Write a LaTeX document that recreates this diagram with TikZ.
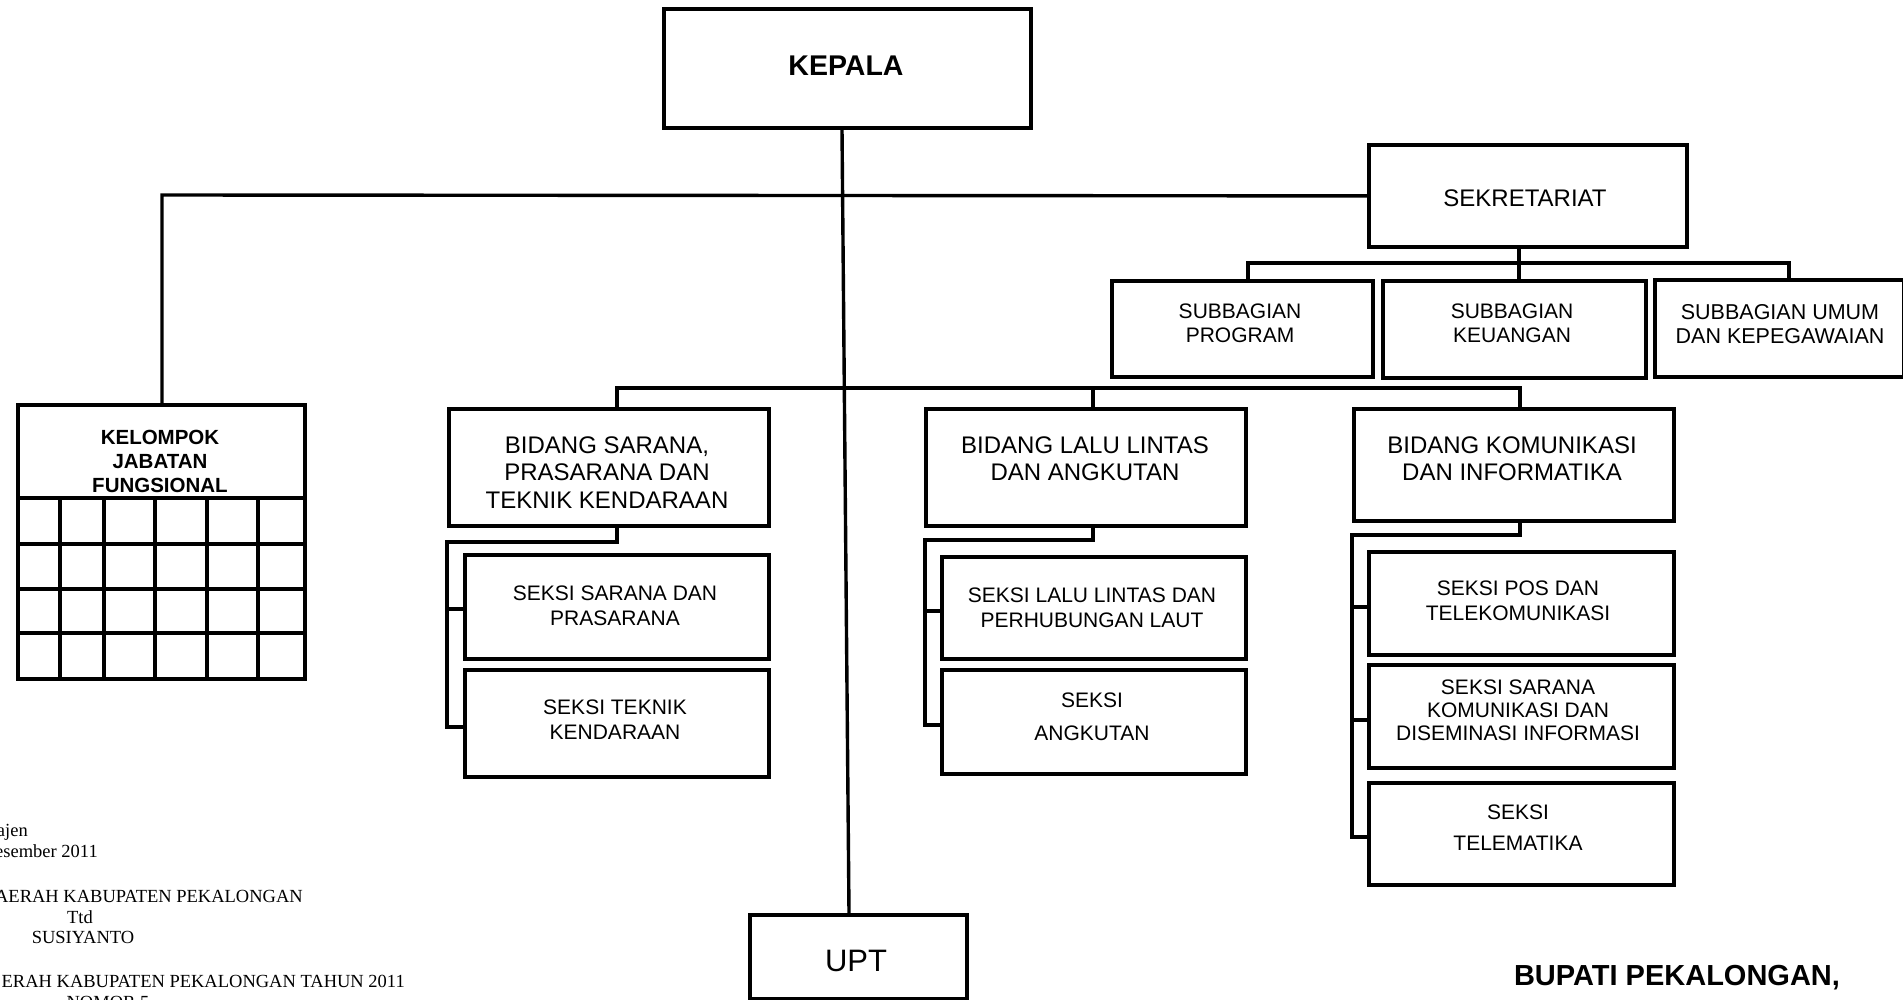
\documentclass[tikz,border=0pt]{standalone}
\usepackage{fontspec}
\setmainfont{Liberation Sans}
\newfontfamily\tnr{Liberation Serif}
\newcommand\fsz[2]{\fontsize{#1}{#2}\selectfont}
\newcommand\bx[5]{\node[box,anchor=north west,minimum width={#4-#2},minimum height={#5-#3}] (#1) at (#2,#3) {};}
\begin{document}
\begin{tikzpicture}[x=1pt,y=-1pt,
  box/.style={draw,line width=3.8pt,fill=white,inner sep=0pt,rectangle},
  ln/.style={line width=3.4pt,line join=miter},
  grid/.style={line width=3.6pt},
  t/.style={inner sep=0pt,align=center},
  sek/.style={t,font={\fsz{21}{25}}},
  bid/.style={t,font={\fsz{24}{27.5}}},
  sub/.style={t,font={\fsz{21}{24}}},
  ser/.style={inner sep=0pt,font={\tnr\fsz{18.5}{22}}}]
\useasboundingbox (0,0) rectangle (1903,999);

% junction coordinates
\coordinate (kx) at (842,0);
\coordinate (ux) at (849,0);
\coordinate (h0) at (162,195);
\coordinate (s0) at (1519,263);
\coordinate (s1) at (1248,263);
\coordinate (s2) at (1789,263);
\coordinate (m1) at (617,388);
\coordinate (m2) at (1093,388);
\coordinate (m3) at (1520,388);
\coordinate (a1) at (617,542);
\coordinate (a2) at (447,542);
\coordinate (a3) at (447,609);
\coordinate (a4) at (447,727);
\coordinate (b1) at (1093,540);
\coordinate (b2) at (925,540);
\coordinate (b3) at (925,611);
\coordinate (b4) at (925,725);
\coordinate (c1) at (1520,535);
\coordinate (c2) at (1352,535);
\coordinate (c3) at (1352,607);
\coordinate (c4) at (1352,720);
\coordinate (c5) at (1352,837);

% boxes
\bx{kepala}{662}{7}{1029}{126}
\bx{sek}{1367}{143}{1685}{245}
\bx{sprog}{1110}{279}{1371}{375}
\bx{skeu}{1381}{279}{1644}{376}
\bx{sumum}{1653}{278}{1902}{375}
\bx{kel}{16}{403}{303}{677}
\bx{bsar}{447}{407}{767}{524}
\bx{blalu}{924}{407}{1244}{524}
\bx{bkom}{1352}{407}{1672}{519}
\bx{ss1}{463}{553}{767}{657}
\bx{ss2}{463}{668}{767}{775}
\bx{sl1}{940}{555}{1244}{657}
\bx{sl2}{940}{668}{1244}{772}
\bx{sk1}{1367}{550}{1672}{653}
\bx{sk2}{1367}{663}{1672}{766}
\bx{sk3}{1367}{781}{1672}{883}
\bx{upt}{748}{913}{965}{997}

% connectors
\draw[ln] (kepala.south -| kx) -- (upt.north -| ux);
\draw[ln] (sek.west) -- (h0) -- (h0 |- kel.north);
\draw[ln] (sek.south -| s0) -- (skeu.north -| s0);
\draw[ln] (sprog.north -| s1) -- (s1) -- (s2) -- (sumum.north -| s2);
\draw[ln] (bsar.north -| m1) -- (m1) -- (m3) -- (bkom.north -| m3);
\draw[ln] (m2) -- (blalu.north -| m2);
\draw[ln] (bsar.south -| a1) -- (a1) -- (a2) -- (a4) -- (ss2.west |- a4);
\draw[ln] (a3) -- (ss1.west |- a3);
\draw[ln] (blalu.south -| b1) -- (b1) -- (b2) -- (b4) -- (sl2.west |- b4);
\draw[ln] (b3) -- (sl1.west |- b3);
\draw[ln] (bkom.south -| c1) -- (c1) -- (c2) -- (c5) -- (sk3.west |- c5);
\draw[ln] (c3) -- (sk1.west |- c3);
\draw[ln] (c4) -- (sk2.west |- c4);

% grid of the functional group
\draw[grid] (16,498) -- (303,498);
\foreach \yy in {544,589,633} \draw[grid] (16,\yy) -- (303,\yy);
\foreach \xx in {60,104,155,207,258} \draw[grid] (\xx,498) -- (\xx,677);

% texts
\node[t,anchor=base,font={\fsz{28.5}{34}\bfseries}] (kepala-t) at (846,75.7) {KEPALA};
\node[t,anchor=base,font={\fsz{24}{28}}] (sek-t) at (1525,206.6) {SEKRETARIAT};
\node[sub] (sprog-t) at (1240,323) {SUBBAGIAN\\PROGRAM};
\node[sub] (skeu-t) at (1512,323) {SUBBAGIAN\\KEUANGAN};
\node[t,font={\fsz{21.5}{24}}] (sumum-t) at (1780,324) {SUBBAGIAN UMUM\\DAN KEPEGAWAIAN};
\node[t,font={\fsz{20.5}{24}\bfseries}] (kel-t) at (160,461) {KELOMPOK\\JABATAN\\FUNGSIONAL};
\node[bid] (bsar-t) at (607,472.5) {BIDANG SARANA,\\PRASARANA DAN\\TEKNIK KENDARAAN};
\node[bid] (blalu-t) at (1085,458.5) {BIDANG LALU LINTAS\\DAN ANGKUTAN};
\node[bid] (bkom-t) at (1512,458.5) {BIDANG KOMUNIKASI\\DAN INFORMATIKA};
\node[sek] (ss1-t) at (615,605.5) {SEKSI SARANA DAN\\PRASARANA};
\node[sek] (ss2-t) at (615,720) {SEKSI TEKNIK\\KENDARAAN};
\node[sek] (sl1-t) at (1092,607.5) {SEKSI LALU LINTAS DAN\\PERHUBUNGAN LAUT};
\node[t,font={\fsz{21}{33}}] (sl2-t) at (1092,716.5) {SEKSI\\ANGKUTAN};
\node[sek] (sk1-t) at (1518,600.5) {SEKSI POS DAN\\TELEKOMUNIKASI};
\node[t,font={\fsz{21}{23}}] (sk2-t) at (1518,710) {SEKSI SARANA\\KOMUNIKASI DAN\\DISEMINASI INFORMASI};
\node[t,font={\fsz{21}{31}}] (sk3-t) at (1518,827.5) {SEKSI\\TELEMATIKA};
\node[t,anchor=base,font={\fsz{31}{36}}] (upt-t) at (856,971) {UPT};
\node[t,anchor=base,font={\fsz{29}{34}\bfseries}] (bupati) at (1677,985.5) {BUPATI PEKALONGAN,};

% signature block (cut at the left edge, as in the reference)
\node[ser,anchor=base east] (n1) at (28,836) {ajen};
\node[ser,anchor=base east] (n2) at (98,857) {esember 2011};
\node[ser,anchor=base east] (n3) at (303,902) {AERAH KABUPATEN PEKALONGAN};
\node[ser,anchor=base] (n4) at (80,923) {Ttd};
\node[ser,anchor=base] (n5) at (83,943) {SUSIYANTO};
\node[ser,anchor=base east] (n6) at (405,987) {ERAH KABUPATEN PEKALONGAN TAHUN 2011};
\node[ser,anchor=base] (n7) at (108,1008) {NOMOR 5};
\end{tikzpicture}
\end{document}
